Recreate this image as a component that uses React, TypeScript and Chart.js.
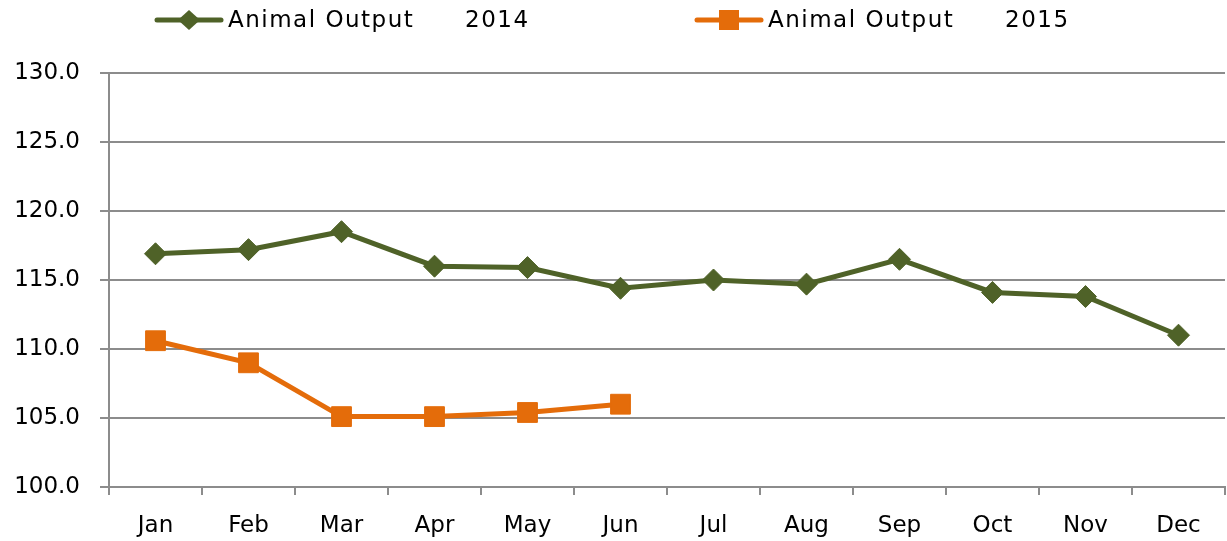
import React, { useEffect, useRef } from "react";
import { Chart, registerables } from "chart.js";

Chart.register(...registerables);

const months = ["Jan", "Feb", "Mar", "Apr", "May", "Jun", "Jul", "Aug", "Sep", "Oct", "Nov", "Dec"];
const output2014 = [116.9, 117.2, 118.5, 116.0, 115.9, 114.4, 115.0, 114.7, 116.5, 114.1, 113.8, 111.0];
const output2015 = [110.6, 109.0, 105.1, 105.1, 105.4, 106.0, null, null, null, null, null, null];
const seriesNames = ["Animal Output", "Animal Output"];
const seriesYears = ["2014", "2015"];
const yTicks = [100, 105, 110, 115, 120, 125, 130];

const OLIVE = "#4F6228";
const ORANGE = "#E46C0A";
const GRID = "#8C8C8C";

const legendPlugin = {
  id: "customLegend",
  afterDraw(chart: any) {
    const ctx = chart.ctx;
    const starts = [157, 697];
    chart.data.datasets.forEach((ds: any, i: number) => {
      const x0 = starts[i];
      const y = 20;
      ctx.save();
      ctx.strokeStyle = ds.borderColor;
      ctx.lineWidth = 5;
      ctx.lineCap = "round";
      ctx.beginPath();
      ctx.moveTo(x0, y);
      ctx.lineTo(x0 + 64, y);
      ctx.stroke();
      ctx.fillStyle = ds.borderColor;
      const cx = x0 + 32;
      ctx.beginPath();
      if (ds.pointStyle === "rectRot") {
        ctx.moveTo(cx - 11, y);
        ctx.lineTo(cx, y - 10);
        ctx.lineTo(cx + 11, y);
        ctx.lineTo(cx, y + 10);
        ctx.closePath();
      } else {
        ctx.rect(cx - 10, y - 10, 20, 20);
      }
      ctx.fill();
      ctx.fillStyle = "#000";
      ctx.font = "23px 'DejaVu Sans'";
      ctx.textBaseline = "alphabetic";
      ctx.textAlign = "left";
      try {
        (ctx as any).letterSpacing = "1.5px";
      } catch (e) {}
      ctx.fillText(seriesNames[i], x0 + 71, 27);
      ctx.fillText(seriesYears[i], x0 + 308, 27);
      ctx.restore();
    });
  },
};

export default function App() {
  const ref = useRef<HTMLCanvasElement | null>(null);
  useEffect(() => {
    if (!ref.current) return;
    const chart = new Chart(ref.current, {
      type: "line",
      data: {
        labels: months,
        datasets: [
          {
            label: seriesNames[0] + " " + seriesYears[0],
            data: output2014,
            borderColor: OLIVE,
            backgroundColor: OLIVE,
            borderWidth: 5,
            pointStyle: "rectRot",
            pointRadius: 11,
            pointBorderWidth: 1,
            pointBackgroundColor: OLIVE,
            pointBorderColor: OLIVE,
            tension: 0,
          },
          {
            label: seriesNames[1] + " " + seriesYears[1],
            data: output2015,
            borderColor: ORANGE,
            backgroundColor: ORANGE,
            borderWidth: 5,
            pointStyle: "rect",
            pointRadius: 14,
            pointBorderWidth: 1,
            pointBackgroundColor: ORANGE,
            pointBorderColor: ORANGE,
            tension: 0,
          },
        ],
      },
      options: {
        responsive: false,
        animation: false,
        layout: { autoPadding: false, padding: { top: 73, right: 2, left: 0, bottom: 0 } },
        plugins: { legend: { display: false }, tooltip: { enabled: false } },
        scales: {
          x: {
            offset: true,
            grid: {
              offset: true,
              drawOnChartArea: false,
              drawTicks: true,
              tickLength: 8,
              color: GRID,
              lineWidth: 2,
            },
            border: { color: GRID, width: 2 },
            ticks: {
              color: "#000",
              font: { family: "'DejaVu Sans'", size: 23 },
              padding: 17,
              maxRotation: 0,
              autoSkip: false,
            },
            afterFit: (s: any) => {
              s.height = 54;
              s.paddingRight = 0;
              s.paddingLeft = 0;
            },
          },
          y: {
            min: 100,
            max: 130,
            afterBuildTicks: (s: any) => {
              s.ticks = yTicks.map((v) => ({ value: v }));
            },
            grid: { color: GRID, lineWidth: 2, tickLength: 9 },
            border: { color: GRID, width: 2 },
            ticks: {
              color: "#000",
              font: { family: "'DejaVu Sans'", size: 23 },
              padding: 20,
              callback: (v: any) => Number(v).toFixed(1),
            },
            afterFit: (s: any) => {
              s.width = 109;
            },
          },
        },
      },
      plugins: [legendPlugin],
    });
    return () => chart.destroy();
  }, []);
  return (
    <div style={{ position: "fixed", left: 0, top: 0, width: 1227, height: 541, background: "#fff" }}>
      <canvas ref={ref} width={1227} height={541} style={{ display: "block" }} />
    </div>
  );
}
